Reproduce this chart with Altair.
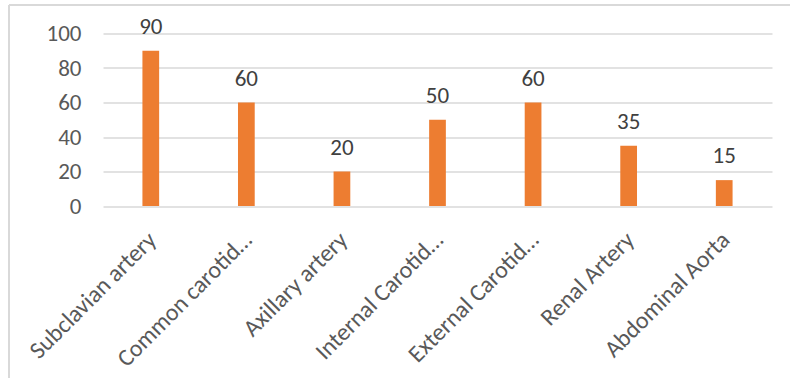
import altair as alt
import pandas as pd

categories = ["Subclavian artery", "Common carotid…", "Axillary artery", "Internal Carotid…",
              "External Carotid…", "Renal Artery", "Abdominal Aorta"]
values = [90, 60, 20, 50, 60, 35, 15]
y_ticks = [0, 20, 40, 60, 80, 100]

df = pd.DataFrame({"cat": categories, "val": values})
FONT = "Carlito, Liberation Sans, Arial, sans-serif"

x = alt.X("cat:N", sort=categories, title=None,
          scale=alt.Scale(paddingInner=0.825, paddingOuter=0.4125),
          axis=alt.Axis(labelAngle=-45, labelAlign="right", labelBaseline="middle",
                        labelFontSize=24, labelColor="#595959", labelFont=FONT,
                        labelPadding=30, labelOffset=2, ticks=False, domain=False,
                        grid=False, labelLimit=400, labelOverlap=False))
y = alt.Y("val:Q", title=None,
          scale=alt.Scale(domain=[0, 100], nice=False),
          axis=alt.Axis(values=y_ticks, labelFontSize=23, labelColor="#595959", labelFont=FONT,
                        labelPadding=22, ticks=False, domain=False, grid=True,
                        labelOverlap=False, gridColor="#D9D9D9", gridWidth=1.3))

base = alt.Chart(df)
bars = base.mark_bar(color="#ED7D31").encode(x=x, y=y)
labels = base.mark_text(dy=-17, baseline="alphabetic", fontSize=23, color="#404040",
                        font=FONT).encode(x=x, y=y, text="val:Q")
frame_top = alt.Chart(df).mark_rule(color="#D9D9D9", strokeWidth=1.5).encode(
    x=alt.value(-94), x2=alt.value(720), y=alt.value(-28.5))
frame_left = alt.Chart(df).mark_rule(color="#D9D9D9", strokeWidth=1.5).encode(
    x=alt.value(-94), y=alt.value(-28.5), y2=alt.value(400))

chart = alt.layer(frame_top, frame_left, bars, labels).properties(
    width=669, height=172.5,
    background="white",
    autosize=alt.AutoSizeParams(type="none"),
    padding={"left": 103, "top": 33.5, "right": 18, "bottom": 172},
).configure_view(stroke="transparent", strokeWidth=0)

chart.save("out.html", embed_options={"renderer": "svg", "actions": False})
